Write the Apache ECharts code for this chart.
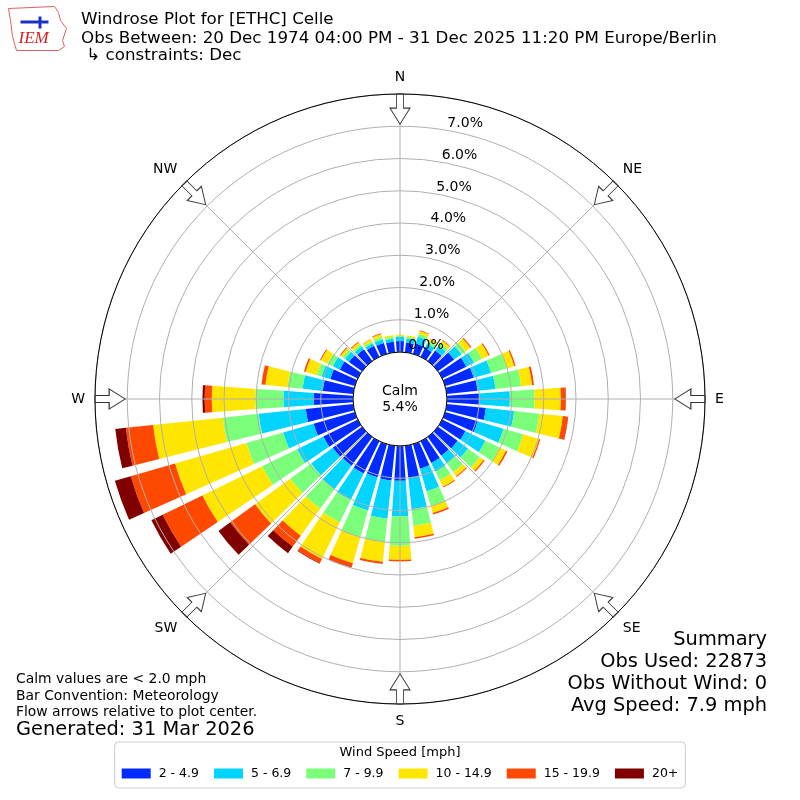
<!DOCTYPE html>
<html lang="en">
<head>
    <meta charset="UTF-8">
    <title>Windrose Celle</title>
    <script src="https://cdn.jsdelivr.net/npm/echarts@6/dist/echarts.min.js"></script>
    <style>
        body { margin: 0; background: #fff; }
        #rose { width: 800px; height: 800px; }
    </style>
</head>
<body>
<div id="rose"></div>
<script>
    // direction bins (degrees, meteorological convention)
    var directions = ['0','10','20','30','40','50','60','70','80','90','100','110',
        '120','130','140','150','160','170','180','190','200','210','220','230',
        '240','250','260','270','280','290','300','310','320','330','340','350'];

    var speedBins = ['2 - 4.9', '5 - 6.9', '7 - 9.9', '10 - 14.9', '15 - 19.9', '20+'];

    // frequency (%) of each speed bin per direction
    var bin2to5 = [0.34,0.30,0.33,0.30,0.40,0.62,0.83,0.92,0.96,1.00,1.22,1.05,
        0.80,0.75,0.72,0.75,0.79,1.00,1.08,1.08,1.07,1.11,1.10,1.12,
        1.19,1.33,1.48,1.22,0.95,0.79,0.62,0.50,0.45,0.38,0.35,0.33];
    var bin5to7 = [0.13,0.12,0.22,0.15,0.18,0.28,0.27,0.56,0.56,0.95,0.88,0.83,
        0.69,0.40,0.28,0.30,0.73,0.98,1.10,1.19,1.07,0.92,0.90,0.83,
        0.90,0.98,1.47,0.94,0.63,0.28,0.24,0.15,0.11,0.09,0.12,0.09];
    var bin7to10 = [0.04,0.06,0.10,0.10,0.10,0.15,0.27,0.50,0.80,0.77,0.79,0.64,
        0.49,0.45,0.35,0.30,0.48,0.52,0.92,0.73,0.86,0.77,0.75,0.80,
        1.21,1.19,1.12,0.87,0.47,0.16,0.18,0.09,0.07,0.06,0.08,0.06];
    var bin10to15 = [0.03,0.04,0.09,0.07,0.10,0.19,0.23,0.25,0.34,0.81,0.73,0.51,
        0.22,0.15,0.15,0.22,0.22,0.35,0.43,0.62,0.84,1.26,1.03,1.35,
        2.06,2.30,2.17,1.35,0.69,0.36,0.23,0.08,0.08,0.07,0.09,0.05];
    var bin15to20 = [0.00,0.00,0.02,0.01,0.02,0.04,0.04,0.04,0.06,0.15,0.16,0.04,
        0.05,0.04,0.03,0.03,0.05,0.05,0.05,0.07,0.14,0.15,0.42,0.95,
        1.37,1.43,0.85,0.22,0.12,0.05,0.03,0.03,0.03,0.01,0.02,0.00];
    var bin20up = [0,0,0,0,0,0,0,0,0,0.01,0.01,0,
        0,0,0,0,0,0,0,0,0.01,0.02,0.25,0.45,
        0.39,0.51,0.33,0.07,0,0,0,0,0,0,0,0];

    var compassNames = ['N', 'NE', 'E', 'SE', 'S', 'SW', 'W', 'NW'];
    var compassAngles = [0, 45, 90, 135, 180, 225, 270, 315];

    var calmPct = '5.4%';
    var summaryLines = ['Summary', 'Obs Used: 22873', 'Obs Without Wind: 0', 'Avg Speed: 7.9 mph'];
    var noteLines = ['Calm values are < 2.0 mph', 'Bar Convention: Meteorology', 'Flow arrows relative to plot center.'];

    // jet colormap samples
    var binColors = ['#002aff', '#00d4ff', '#7bff7b', '#ffe600', '#ff4800', '#800000'];

    var speedData = [bin2to5, bin5to7, bin7to10, bin10to15, bin15to20, bin20up];
    var arrowPath = 'path://M6.5,0L13.5,0L13.5,14L20,14L10,30L0,14L6.5,14Z';
    var font = '"DejaVu Sans", sans-serif';
    var C = [400, 399];
    var R = [47, 305];

    var series = speedBins.map(function (name, i) {
        return {
            type: 'bar', name: name, data: speedData[i],
            coordinateSystem: 'polar', polarIndex: 0,
            stack: 'rose', barCategoryGap: '20%',
            itemStyle: { color: binColors[i] },
            silent: true, z: 2
        };
    });
    // flow arrows on the compass points
    series.push({
        type: 'scatter', coordinateSystem: 'polar', polarIndex: 1,
        data: compassAngles.map(function (a) { return [7.53, a]; }),
        symbol: arrowPath, symbolSize: [20, 30],
        symbolRotate: function (v, p) { return -p.data[1]; },
        itemStyle: { color: '#fff', borderColor: '#333', borderWidth: 1, opacity: 1 },
        silent: true, z: 6
    });

    var chart = echarts.init(document.getElementById('rose'));
    chart.setOption({
        animation: false,
        backgroundColor: '#fff',
        polar: [
            { center: C, radius: R },
            { center: C, radius: R },
            { center: C, radius: R }
        ],
        angleAxis: [
            { polarIndex: 0, type: 'category', data: directions, startAngle: 95, clockwise: true,
              axisLine: { show: false }, axisTick: { show: false }, axisLabel: { show: false }, splitLine: { show: false } },
            { polarIndex: 1, type: 'value', min: 0, max: 360, interval: 45, startAngle: 90, clockwise: true, z: 4,
              axisLine: { lineStyle: { color: '#000', width: 1 } },
              axisTick: { show: false },
              splitLine: { lineStyle: { color: '#b0b0b0', width: 1 } },
              axisLabel: {
                  margin: 10, fontSize: 14, fontFamily: font, color: '#000',
                  formatter: function (v) { return compassNames[Math.round(v / 45)] || ''; }
              } },
            { polarIndex: 2, type: 'value', min: 0, max: 360, startAngle: 80, clockwise: true, show: false }
        ],
        radiusAxis: [
            { polarIndex: 0, min: 0, max: 8, show: false },
            { polarIndex: 1, min: 0, max: 8, interval: 1, z: 4,
              axisLine: { show: false }, axisTick: { show: false }, axisLabel: { show: false },
              splitLine: { lineStyle: { color: '#b0b0b0', width: 1 } } },
            { polarIndex: 2, min: 0, max: 8, interval: 1, z: 5,
              axisLine: { show: false }, axisTick: { show: false }, splitLine: { show: false },
              axisLabel: {
                  margin: 0, fontSize: 14, fontFamily: font, color: '#000', align: 'left', verticalAlign: 'bottom',
                  formatter: function (v) { return v < 8 ? v.toFixed(1) + '%' : ''; }
              } }
        ],
        legend: {
            data: speedBins, left: 'center', top: 742, orient: 'horizontal',
            icon: 'rect', itemWidth: 29, itemHeight: 10, itemGap: 15,
            padding: [25, 7, 8, 7],
            borderColor: '#cccccc', borderWidth: 1, borderRadius: 4, backgroundColor: '#fff',
            textStyle: { fontSize: 12.5, fontFamily: font, color: '#000', padding: [0, 0, 0, 3] },
            selectedMode: false
        },
        graphic: [
            { type: 'group', left: 8, top: 6, children: [
                { type: 'polygon', shape: { points: [[0,2],[46,0],[50,6],[52,14],[58,22],[54,34],[56,40],[50,44],[8,44],[4,30],[2,14]] },
                  style: { fill: '#fff', stroke: '#e06060', lineWidth: 1 } },
                { type: 'rect', shape: { x: 12, y: 14, width: 28, height: 3 }, style: { fill: '#1a2fbf' } },
                { type: 'rect', shape: { x: 30, y: 10, width: 3, height: 12 }, style: { fill: '#1a2fbf' } },
                { type: 'text', x: 10, y: 24, style: { text: 'IEM', font: 'italic 17px "Liberation Serif", serif', fill: '#d02020' } }
            ] },
            { type: 'text', x: 81, y: 20, style: { text: 'Windrose Plot for [ETHC] Celle', font: '16.7px ' + font, fill: '#000', verticalAlign: 'middle' } },
            { type: 'text', x: 81, y: 39, style: { text: 'Obs Between: 20 Dec 1974 04:00 PM - 31 Dec 2025 11:20 PM Europe/Berlin', font: '16.7px ' + font, fill: '#000', verticalAlign: 'middle' } },
            { type: 'text', x: 81, y: 56, style: { text: ' \u21b3 constraints: Dec', font: '16.7px ' + font, fill: '#000', verticalAlign: 'middle' } },
            { type: 'text', x: 400, y: 399, z: 10, style: { text: 'Calm\n' + calmPct, font: '14px ' + font, lineHeight: 16, fill: '#000', align: 'center', verticalAlign: 'middle' } },
            { type: 'text', x: 16, y: 679, style: { text: noteLines[0], font: '13.9px ' + font, fill: '#000', verticalAlign: 'middle' } },
            { type: 'text', x: 16, y: 696, style: { text: noteLines[1], font: '13.9px ' + font, fill: '#000', verticalAlign: 'middle' } },
            { type: 'text', x: 16, y: 712, style: { text: noteLines[2], font: '13.9px ' + font, fill: '#000', verticalAlign: 'middle' } },
            { type: 'text', x: 16, y: 730, style: { text: 'Generated: 31 Mar 2026', font: '19.4px ' + font, fill: '#000', verticalAlign: 'middle' } },
            { type: 'text', x: 767, y: 640, style: { text: summaryLines[0], font: '19.4px ' + font, fill: '#000', align: 'right', verticalAlign: 'middle' } },
            { type: 'text', x: 767, y: 662, style: { text: summaryLines[1], font: '19.4px ' + font, fill: '#000', align: 'right', verticalAlign: 'middle' } },
            { type: 'text', x: 767, y: 684, style: { text: summaryLines[2], font: '19.4px ' + font, fill: '#000', align: 'right', verticalAlign: 'middle' } },
            { type: 'text', x: 767, y: 706, style: { text: summaryLines[3], font: '19.4px ' + font, fill: '#000', align: 'right', verticalAlign: 'middle' } },
            { type: 'text', x: 400, y: 753, z: 100, style: { text: 'Wind Speed [mph]', font: '13px ' + font, fill: '#000', align: 'center', verticalAlign: 'middle' } }
        ],
        series: series
    });
</script>
</body>
</html>
